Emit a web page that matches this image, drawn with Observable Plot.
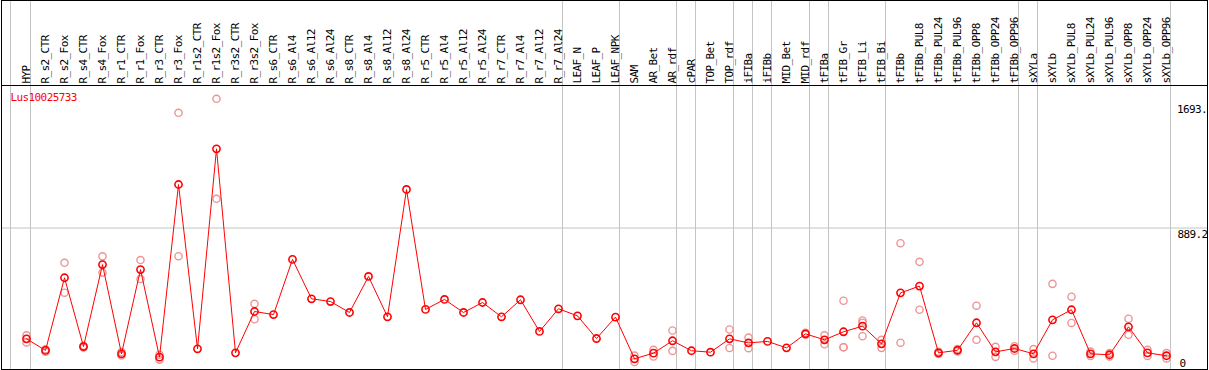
<!DOCTYPE html>
<html>
<head>
<meta charset="utf-8">
<script src="https://cdn.jsdelivr.net/npm/d3@7"></script>
<script src="https://cdn.jsdelivr.net/npm/@observablehq/plot@0.6"></script>
<style>
  html, body { margin: 0; padding: 0; background: #fff; overflow: hidden; }
  svg { display: block; }
  svg text { letter-spacing: -0.6px; }
</style>
</head>
<body>
<div id="chart"></div>
<script>
const title = "Lus10025733";

const categories = [
  "HYP", "R_s2_CTR", "R_s2_Fox", "R_s4_CTR", "R_s4_Fox", "R_r1_CTR", "R_r1_Fox",
  "R_r3_CTR", "R_r3_Fox", "R_r1s2_CTR", "R_r1s2_Fox", "R_r3s2_CTR", "R_r3s2_Fox",
  "R_s6_CTR", "R_s6_Al4", "R_s6_Al12", "R_s6_Al24", "R_s8_CTR", "R_s8_Al4", "R_s8_Al12", "R_s8_Al24",
  "R_r5_CTR", "R_r5_Al4", "R_r5_Al12", "R_r5_Al24", "R_r7_CTR", "R_r7_Al4", "R_r7_Al12", "R_r7_Al24",
  "LEAF_N", "LEAF_P", "LEAF_NPK", "SAM", "AR_Bet", "AR_rdf", "cPAR", "TOP_Bet", "TOP_rdf",
  "iFIBa", "iFIBb", "MID_Bet", "MID_rdf", "tFIBa", "tFIB_Gr", "tFIB_Li", "tFIB_Bi", "tFIBb",
  "tFIBb_PUL8", "tFIBb_PUL24", "tFIBb_PUL96", "tFIBb_OPP8", "tFIBb_OPP24", "tFIBb_OPP96",
  "sXYLa", "sXYLb", "sXYLb_PUL8", "sXYLb_PUL24", "sXYLb_PUL96", "sXYLb_OPP8", "sXYLb_OPP24", "sXYLb_OPP96"
];

const means = [
  200, 128, 580, 152, 662, 107, 631,
  86, 1160, 138, 1382, 113, 370,
  351, 694, 449, 432, 364, 588, 337, 1129,
  383, 445, 364, 426, 337, 443, 246, 387,
  343, 202, 335, 76, 111, 188, 126, 117, 200,
  175, 184, 144, 231, 194, 244, 279, 169, 486,
  528, 113, 129, 300, 119, 140,
  107, 318, 381, 107, 101, 275, 113, 95
];

const rep1 = [
  222, 135, 673, 157, 713, 118, 690,
  101, 1606, null, 1693, null, 418,
  null, null, null, null, null, null, null, null,
  null, null, null, null, null, null, null, null,
  null, null, null, 96, 132, 252, null, null, 258,
  208, null, null, 237, 222, 437, 314, 194, 795,
  679, 120, 137, 406, 150, 154,
  136, 542, 462, 121, 112, 325, 132, 111
];

const rep2 = [
  178, 120, 487, 147, 612, 96, 572,
  71, 714, null, 1071, null, 322,
  null, null, null, null, null, null, null, null,
  null, null, null, null, null, null, null, null,
  null, null, null, 56, 90, 125, null, null, 143,
  142, null, null, 226, 166, 148, 216, 144, 176,
  381, 106, 122, 194, 88, 126,
  78, 95, 299, 93, 90, 225, 94, 78
];

const rep3 = [
  null, null, null, null, null, null, null,
  null, null, null, null, null, null,
  null, null, null, null, null, null, null, null,
  null, null, null, null, null, null, null, null,
  null, null, null, null, null, null, null, null, null,
  null, null, null, null, null, 148, 300, null, null,
  null, null, null, null, null, null,
  null, null, null, null, null, null, null, null
];

// a grey separator follows each of these categories
const separatorAfter = [
  "HYP", "R_r7_Al24", "LEAF_NPK", "AR_rdf", "cPAR", "TOP_rdf", "iFIBa", "iFIBb",
  "MID_rdf", "tFIBa", "tFIB_Bi", "tFIBb_OPP96", "sXYLa", "sXYLb_OPP96"
];
const separatorBefore = ["HYP"];

const yTicks = [0, 889.2, 1693];
const yTickLabels = ["0", "889.2", "1693."];
const gridY = [889.2];

const meanData = categories.map((c, i) => ({cat: c, v: means[i]}));
const repData = categories.flatMap((c, i) =>
  [rep1[i], rep2[i], rep3[i]].filter(v => v != null).map(v => ({cat: c, v}))
);
const tickData = yTicks.map((v, i) => ({v, label: yTickLabels[i]}));

const grey = "#c4c4c4";
const red = "#ff0000";
const pink = "#ee9494";

const chart = Plot.plot({
  width: 1209,
  height: 370,
  marginTop: 85,
  marginBottom: 1,
  marginLeft: 1,
  marginRight: 2,
  x: {type: "point", domain: categories, range: [26, 1166], padding: 0, axis: null},
  y: {domain: [0, 1693], range: [370.5, 98.3], axis: null},
  style: {fontFamily: "DejaVu Sans Mono", fontSize: "11px", background: "#fff", color: "#000"},
  marks: [
    Plot.ruleY(gridY, {stroke: grey, strokeWidth: 1}),
    Plot.ruleX(separatorAfter, {x: d => d, dx: 4, stroke: grey, strokeWidth: 1, insetTop: -85}),
    Plot.ruleX(separatorBefore, {x: d => d, dx: -16, stroke: grey, strokeWidth: 1, insetTop: -85}),
    Plot.frame({stroke: "#000", strokeWidth: 1, insetTop: -85}),
    Plot.frame({stroke: "#000", strokeWidth: 1}),
    Plot.text(categories, {
      x: d => d, frameAnchor: "top", rotate: -90, textAnchor: "start",
      lineAnchor: "middle", dy: -2, fill: "#000", fontSize: 11
    }),
    Plot.text(tickData, {
      filter: d => d.v === 1693, y: "v", text: "label", frameAnchor: "right",
      textAnchor: "start", lineAnchor: "top", dx: -30.5, dy: 6, fill: "#000", fontSize: 11
    }),
    Plot.text(tickData, {
      filter: d => d.v === 889.2, y: "v", text: "label", frameAnchor: "right",
      textAnchor: "start", lineAnchor: "top", dx: -30, dy: 2, fill: "#000", fontSize: 11
    }),
    Plot.text(tickData, {
      filter: d => d.v === 0, y: "v", text: "label", frameAnchor: "right",
      textAnchor: "start", lineAnchor: "bottom", dx: -28, dy: -4.5, fill: "#000", fontSize: 11
    }),
    Plot.text([title], {
      frameAnchor: "top-left", textAnchor: "start", lineAnchor: "top",
      dx: 9, dy: 8, fill: red, fontSize: 11
    }),
    Plot.dot(repData, {x: "cat", y: "v", r: 3.6, stroke: pink, strokeWidth: 1.4, fill: "none"}),
    Plot.line(meanData, {x: "cat", y: "v", stroke: red, strokeWidth: 1}),
    Plot.dot(meanData, {x: "cat", y: "v", r: 3.6, stroke: red, strokeWidth: 1.6, fill: "none"})
  ]
});

document.getElementById("chart").appendChild(chart);
</script>
</body>
</html>
